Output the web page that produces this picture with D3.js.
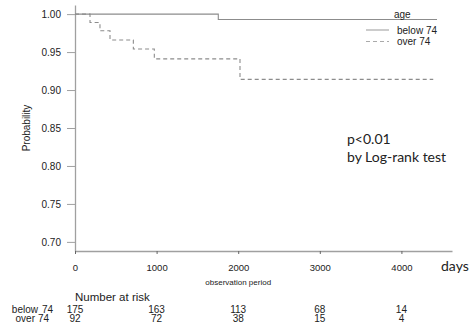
<!DOCTYPE html>
<html>
<head>
<meta charset="utf-8">
<script src="https://cdn.jsdelivr.net/npm/d3@7"></script>
<style>
  body { margin: 0; background: #fff; }
  svg { display: block; }
</style>
</head>
<body>
<div id="chart"></div>
<script>
// Kaplan-Meier curves, values
const groups = ["below 74", "over 74"];
const belowTimes = [0, 1756, 4436];
const belowSurv = [1.00, 0.993, 0.993];
const overTimes = [0, 184, 306, 429, 715, 972, 2022, 4390];
const overSurv = [1.00, 0.989, 0.978, 0.966, 0.954, 0.941, 0.914, 0.914];

const riskTimes = [0, 1000, 2000, 3000, 4000];
const riskBelow = [175, 163, 113, 68, 14];
const riskOver = [92, 72, 38, 15, 4];

const yTicks = [0.70, 0.75, 0.80, 0.85, 0.90, 0.95, 1.00];
const xTicks = [0, 1000, 2000, 3000, 4000];

const W = 475, H = 330;
const font = "'Liberation Sans', Arial, sans-serif";
const font2 = "Lato, 'Open Sans', sans-serif";
const grey = "#a0a0a0";

const svg = d3.select("#chart").append("svg")
  .attr("width", W)
  .attr("height", H);

const x = d3.scaleLinear().domain([0, 4620]).range([75, 452]);
const y = d3.scaleLinear().domain([0.688, 1.012]).range([251, 5]);

// y axis
const yAxis = svg.append("g")
  .attr("transform", `translate(${x(0)},0)`)
  .call(d3.axisLeft(y).tickValues(yTicks).tickFormat(d3.format(".2f")).tickSize(8).tickPadding(6).tickSizeOuter(0));
yAxis.select(".domain").attr("stroke", grey).attr("stroke-width", 1.3);
yAxis.selectAll(".tick line").attr("stroke", grey);
yAxis.selectAll(".tick text").attr("font-family", font).attr("font-size", 10).attr("fill", "#222");

// x axis
const xAxis = svg.append("g")
  .attr("transform", `translate(0,${y(0.688)})`)
  .call(d3.axisBottom(x).tickValues(xTicks).tickFormat(d3.format("d")).tickSize(3).tickPadding(10).tickSizeOuter(0));
xAxis.select(".domain").attr("stroke", grey).attr("stroke-width", 1.3);
xAxis.selectAll(".tick line").attr("stroke", "#666");
xAxis.selectAll(".tick text").attr("font-family", font).attr("font-size", 9.5).attr("fill", "#222");

svg.append("text")
  .attr("x", 30).attr("y", y(0.85))
  .attr("transform", `rotate(-90,30,${y(0.85)})`)
  .attr("text-anchor", "middle")
  .attr("font-family", font).attr("font-size", 10).attr("fill", "#222")
  .text("Probability");

svg.append("text")
  .attr("x", 441).attr("y", 271)
  .attr("font-family", font2).attr("font-size", 14).attr("fill", "#222")
  .text("days");

svg.append("text")
  .attr("x", x(2000)).attr("y", 285)
  .attr("text-anchor", "middle")
  .attr("font-family", font).attr("font-size", 8).attr("fill", "#222")
  .text("observation period");

// curves
const step = d3.line()
  .x(d => x(d[0]))
  .y(d => y(d[1]))
  .curve(d3.curveStepAfter);

svg.append("path")
  .datum(d3.zip(belowTimes, belowSurv))
  .attr("d", step)
  .attr("fill", "none")
  .attr("stroke", "#8c8c8c")
  .attr("stroke-width", 1.1);

svg.append("path")
  .datum(d3.zip(overTimes, overSurv))
  .attr("d", step)
  .attr("fill", "none")
  .attr("stroke", "#8c8c8c")
  .attr("stroke-width", 1.1)
  .attr("stroke-dasharray", "4,3");

// legend
const lg = svg.append("g");
lg.append("text")
  .attr("x", 394).attr("y", 18)
  .attr("font-family", font).attr("font-size", 10).attr("fill", "#222")
  .text("age");
const dashes = [null, "4,3"];
groups.forEach((g, i) => {
  const ly = 30 + i * 11.5;
  lg.append("line")
    .attr("x1", 366).attr("x2", 389)
    .attr("y1", ly).attr("y2", ly)
    .attr("stroke", "#aaa").attr("stroke-width", 1.2)
    .attr("stroke-dasharray", dashes[i]);
  lg.append("text")
    .attr("x", 397).attr("y", ly + 3.5)
    .attr("font-family", font).attr("font-size", 10).attr("fill", "#222")
    .text(g);
});

// p value annotation
svg.append("text")
  .attr("x", 347).attr("y", 144)
  .attr("font-family", font2).attr("font-size", 14).attr("fill", "#222")
  .text("p<0.01");
svg.append("text")
  .attr("x", 347).attr("y", 162)
  .attr("font-family", font2).attr("font-size", 14).attr("fill", "#222")
  .text("by Log-rank test");

// number at risk table
svg.append("text")
  .attr("x", 75).attr("y", 301)
  .attr("font-family", font).attr("font-size", 11.5).attr("fill", "#222")
  .text("Number at risk");

const rows = [riskBelow, riskOver];
rows.forEach((vals, i) => {
  const ry = 312.5 + i * 9.5;
  const parts = groups[i].split(" ");
  const lab = svg.append("g")
    .attr("font-family", font).attr("font-size", 10).attr("fill", "#222");
  // label word and number placed separately, as in the reference
  lab.append("text")
    .attr("x", i === 0 ? 38 : 35).attr("y", ry)
    .attr("text-anchor", "end")
    .text(parts[0]);
  lab.append("text")
    .attr("x", i === 0 ? 42 : 38).attr("y", ry)
    .text(parts[1]);
  svg.append("g").selectAll("text")
    .data(vals)
    .join("text")
    .attr("x", (d, j) => x(riskTimes[j]))
    .attr("y", ry)
    .attr("text-anchor", "middle")
    .attr("font-family", font).attr("font-size", 10).attr("fill", "#222")
    .text(d => d);
});
</script>
</body>
</html>
